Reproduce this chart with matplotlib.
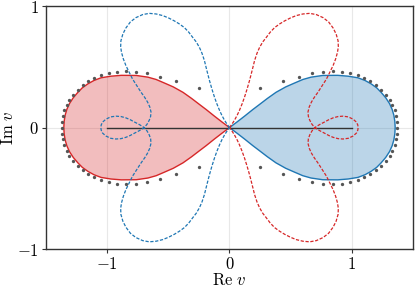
import numpy as np
import matplotlib
matplotlib.use('Agg')
import matplotlib.pyplot as plt

plt.rcParams['mathtext.fontset'] = 'cm'
plt.rcParams['font.family'] = 'serif'
plt.rcParams['font.serif'] = ['DejaVu Serif']
plt.rcParams['font.size'] = 12

# upper half of the right lobe (origin -> tip on the real axis)
lobe_x = [0.0, 0.06, 0.123, 0.19, 0.245, 0.31, 0.38, 0.46, 0.535, 0.6, 0.667, 0.762,
          0.885, 0.97, 1.05, 1.108, 1.158, 1.204, 1.24, 1.278, 1.309, 1.33, 1.344, 1.352, 1.355]
lobe_y = [0.0, 0.045, 0.094, 0.148, 0.19, 0.24, 0.29, 0.335, 0.368, 0.396, 0.415, 0.429,
          0.430, 0.423, 0.41, 0.388, 0.36, 0.327, 0.29, 0.245, 0.197, 0.15, 0.102, 0.052, 0.0]

# upper half of the right dashed curve: big loop (origin -> crossing point)
loop_x = [0.0, 0.02, 0.041, 0.062, 0.082, 0.103, 0.123, 0.144, 0.164, 0.185, 0.205, 0.225,
          0.246, 0.272, 0.30, 0.333, 0.369, 0.41, 0.451, 0.50, 0.547, 0.60, 0.656, 0.71,
          0.765, 0.81, 0.847, 0.872, 0.888, 0.89, 0.883, 0.868, 0.847, 0.82, 0.793, 0.758,
          0.724, 0.693, 0.67, 0.652, 0.642, 0.645, 0.656, 0.674, 0.697]
loop_y = [0.0, 0.028, 0.061, 0.10, 0.143, 0.195, 0.251, 0.318, 0.388, 0.47, 0.551, 0.612,
          0.66, 0.705, 0.741, 0.785, 0.823, 0.853, 0.878, 0.903, 0.922, 0.935, 0.94, 0.93,
          0.905, 0.87, 0.82, 0.77, 0.714, 0.665, 0.619, 0.565, 0.51, 0.455, 0.40, 0.345,
          0.292, 0.248, 0.21, 0.17, 0.129, 0.092, 0.061, 0.028, 0.0]

# small loop, upper half (crossing point -> right end)
small_x = [0.697, 0.737, 0.779, 0.812, 0.847, 0.888, 0.929, 0.972, 1.011, 1.038, 1.049, 1.052]
small_y = [0.0, 0.025, 0.047, 0.065, 0.08, 0.091, 0.094, 0.088, 0.069, 0.045, 0.022, 0.0]

# gray dots, upper half, right side
dots_x = [0.249, 0.434, 0.566, 0.672, 0.762, 0.844, 0.92, 0.986, 1.049, 1.104, 1.153,
          1.199, 1.24, 1.276, 1.309, 1.331, 1.35, 1.363, 1.369]
dots_y = [0.325, 0.382, 0.42, 0.447, 0.461, 0.464, 0.461, 0.45, 0.429, 0.407, 0.38,
          0.347, 0.312, 0.271, 0.23, 0.189, 0.143, 0.096, 0.05]
dot_tip = 1.371

red = '#d62728'
blue = '#1f77b4'

lx = np.array(lobe_x + lobe_x[::-1])
ly = np.array(lobe_y + [-v for v in lobe_y[::-1]])

ax_, ay_ = np.array(loop_x), np.array(loop_y)
sx_, sy_ = np.array(small_x), np.array(small_y)
cx = np.concatenate([ax_, sx_, sx_[::-1], ax_[::-1]])
cy = np.concatenate([ay_, -sy_, sy_[::-1], -ay_[::-1]])

dx = np.array(dots_x + [dot_tip] + dots_x)
dy = np.array(dots_y + [0.0] + [-v for v in dots_y])

fig = plt.figure(figsize=(4.15, 2.89), dpi=100)
ax = fig.add_axes([0.111, 0.138, 0.884, 0.841])

ax.fill(lx, ly, color=blue, alpha=0.3, lw=0, zorder=2)
ax.plot(lx, ly, color=blue, lw=1, zorder=3)
ax.fill(-lx, ly, color=red, alpha=0.3, lw=0, zorder=2)
ax.plot(-lx, ly, color=red, lw=1, zorder=3)

ax.plot([-1, 1], [0, 0], color='#333333', lw=1, zorder=4)

ax.plot(cx, cy, color=red, lw=0.9, dashes=(2.6, 1.3), zorder=5)
ax.plot(-cx, cy, color=blue, lw=0.9, dashes=(2.6, 1.3), zorder=5)

ax.plot(dx, dy, 'o', color='#555555', ms=2.4, mew=0, zorder=6)
ax.plot(-dx, dy, 'o', color='#555555', ms=2.4, mew=0, zorder=6)

ax.set_xlim(-1.5, 1.5)
ax.set_ylim(-1, 1)
ax.set_xticks([-1, 0, 1])
ax.set_xticklabels([r'$-1$', r'$0$', r'$1$'])
ax.set_yticks([-1, 0, 1])
ax.set_yticklabels([r'$-1$', r'$0$', r'$1$'])
ax.grid(True, color='#e8e8e8', lw=0.8, zorder=0)
ax.set_axisbelow(True)
for s in ax.spines.values():
    s.set_color('#333333')
    s.set_linewidth(1.0)
ax.tick_params(direction='out', length=3, width=0.8, color='#333333', pad=2)
ax.set_xlabel(r'$\mathrm{Re}\ v$', labelpad=-1)
ax.set_ylabel(r'$\mathrm{Im}\ v$', labelpad=0)

fig.savefig('out.png', dpi=100)
